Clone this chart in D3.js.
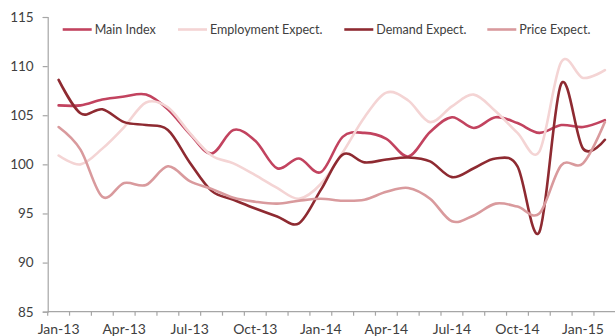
<!DOCTYPE html>
<html>
<head>
<meta charset="utf-8">
<script src="https://cdn.jsdelivr.net/npm/d3@7/dist/d3.min.js"></script>
<style>
  html, body { margin: 0; padding: 0; background: #fff; }
  svg { display: block; }
  text { font-family: Lato, "Open Sans", sans-serif; fill: #404040; }
</style>
</head>
<body>
<svg id="chart" width="615" height="336"></svg>
<script>
// Monthly survey indices, Jan-13 to Feb-15
const months = ["Jan-13","Feb-13","Mar-13","Apr-13","May-13","Jun-13","Jul-13","Aug-13","Sep-13","Oct-13","Nov-13","Dec-13",
                "Jan-14","Feb-14","Mar-14","Apr-14","May-14","Jun-14","Jul-14","Aug-14","Sep-14","Oct-14","Nov-14","Dec-14",
                "Jan-15","Feb-15"];

const mainIndex  = [106.0,106.0,106.6,106.9,107.1,105.6,103.1,101.1,103.5,102.4,99.6,100.6,
                    99.2,102.8,103.2,102.6,100.8,103.3,104.8,103.7,104.8,104.2,103.2,104.0,103.8,104.5];
const employment = [100.9,100.0,101.6,103.8,106.3,105.8,103.2,100.9,100.1,98.9,97.6,96.5,
                    98.0,101.2,104.8,107.3,106.5,104.3,105.9,107.1,105.4,103.2,101.3,110.4,108.8,109.6];
const demand     = [108.6,105.2,105.6,104.3,104.0,103.5,100.2,97.3,96.4,95.5,94.7,94.0,
                    97.4,101.0,100.2,100.5,100.7,100.3,98.7,99.6,100.6,99.8,93.1,108.2,101.6,102.5];
const price      = [103.8,101.5,96.7,98.1,97.9,99.8,98.3,97.5,96.6,96.2,96.0,96.3,
                    96.5,96.3,96.4,97.2,97.6,96.5,94.2,94.8,96.0,95.7,95.0,99.9,100.1,104.3];

const seriesNames = ["Main Index", "Employment Expect.", "Demand Expect.", "Price Expect."];
const seriesValues = [mainIndex, employment, demand, price];
const seriesColors = ["#c2435f", "#f4d4d4", "#8e2a31", "#d99a9d"];

const yTicks = [85, 90, 95, 100, 105, 110, 115];
const xLabels = months.filter((m, i) => i % 3 === 0);

const svg = d3.select("#chart");
const plot = { left: 47.7, right: 615.8, top: 17, bottom: 311.7 };

const x = d3.scaleBand().domain(months).range([plot.left, plot.right]).paddingInner(0).paddingOuter(0);
const y = d3.scaleLinear().domain([85, 115]).range([plot.bottom, plot.top]);
const cx = m => x(m) + x.bandwidth() / 2;

// Y axis
const yAxis = svg.append("g")
  .attr("transform", `translate(${plot.left},0)`)
  .call(d3.axisLeft(y).tickValues(yTicks).tickSize(5).tickPadding(9).tickFormat(d3.format("d")));
yAxis.select(".domain").attr("stroke", "#a6a6a6").attr("stroke-width", 1.2);
yAxis.selectAll(".tick line").attr("stroke", "#a6a6a6").attr("stroke-width", 1.2);
yAxis.selectAll(".tick text").style("font-size", "13.5px").attr("fill", "#404040");

// X axis: labels at quarter months, tick marks between every month
const xAxis = svg.append("g").attr("transform", `translate(0,${plot.bottom})`);
xAxis.append("line")
  .attr("x1", plot.left).attr("x2", plot.right)
  .attr("stroke", "#a6a6a6").attr("stroke-width", 1.2);
const boundaries = months.map(m => x(m)).concat([x(months[months.length - 1]) + x.bandwidth()]);
xAxis.selectAll("line.tick").data(boundaries).join("line")
  .attr("class", "tick")
  .attr("x1", d => d).attr("x2", d => d)
  .attr("y1", 0).attr("y2", 4)
  .attr("stroke", "#a6a6a6").attr("stroke-width", 1.2);
xAxis.selectAll("text").data(xLabels).join("text")
  .attr("x", d => cx(d)).attr("y", 22.5)
  .attr("text-anchor", "middle")
  .style("font-size", "14px")
  .text(d => d);

// Series lines
const line = d3.line()
  .x((d, i) => cx(months[i]))
  .y(d => y(d))
  .curve(d3.curveCatmullRom.alpha(0));

svg.append("g").selectAll("path").data(seriesValues).join("path")
  .attr("d", d => line(d))
  .attr("fill", "none")
  .attr("stroke", (d, i) => seriesColors[i])
  .attr("stroke-width", 2.6)
  .attr("stroke-linejoin", "round")
  .attr("stroke-linecap", "round");

// Legend
const legendX = [62.7, 178, 344.3, 487.3];
const legend = svg.append("g").attr("transform", "translate(0,29.5)");
const items = legend.selectAll("g").data(seriesNames).join("g")
  .attr("transform", (d, i) => `translate(${legendX[i]},0)`);
items.append("line")
  .attr("x1", 0).attr("x2", 29)
  .attr("stroke", (d, i) => seriesColors[i])
  .attr("stroke-width", 2.6);
items.append("text")
  .attr("x", 32).attr("y", 4.5)
  .style("font-size", "12.5px")
  .text(d => d);
</script>
</body>
</html>
